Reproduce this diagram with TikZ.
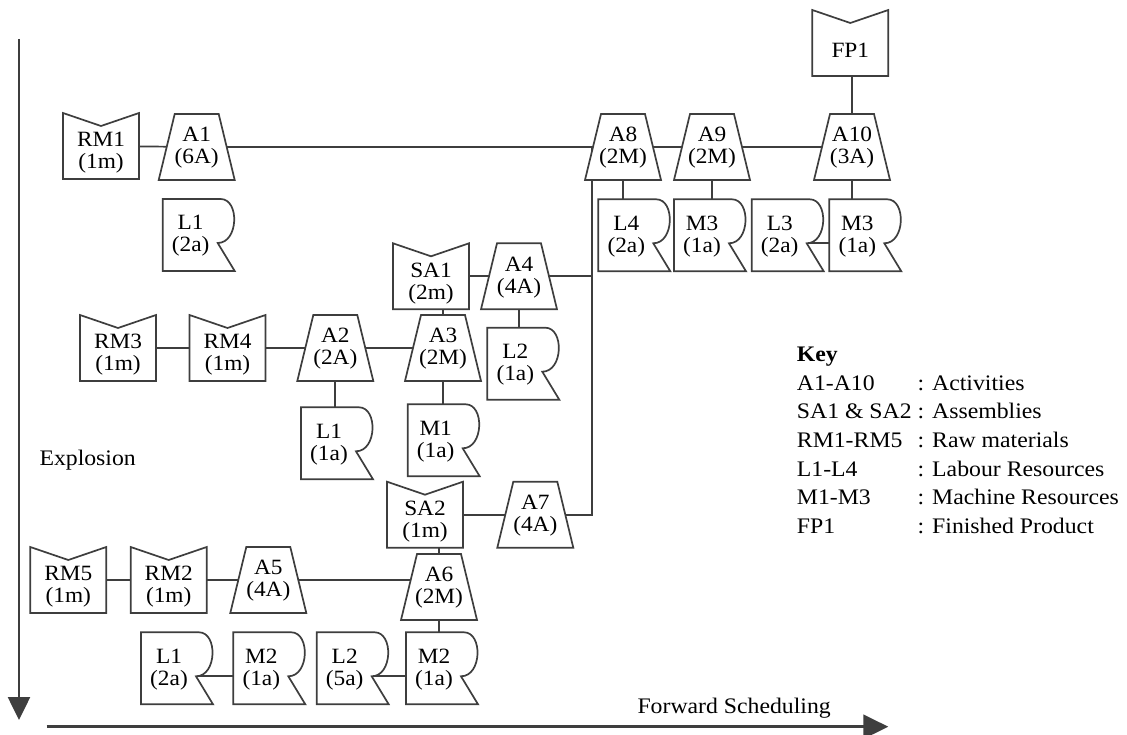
\documentclass[tikz,border=0pt]{standalone}
\usepackage{fontspec}
\setmainfont{Liberation Serif}[FakeStretch=1.07]
\usetikzlibrary{arrows.meta,calc}
\definecolor{inkgray}{RGB}{62,62,62}
\pgfdeclarelayer{background}
\pgfsetlayers{background,main}

% material / assembly / product: box with a notched top
\newcommand{\matnode}[4]{% name, centre x, top y, label
  \filldraw[outline] (#2-38,#3) -- (#2,#3+13) -- (#2+38,#3) -- (#2+38,#3+66) -- (#2-38,#3+66) -- cycle;
  \node[pin] (#1) at (#2,#3+33) {};
  \node[lbl] (#1-lbl) at (#2,#3+40) {#4};}
% activity: trapezoid, narrow side up
\newcommand{\actnode}[4]{% name, centre x, top y, label
  \filldraw[outline] (#2-22,#3) -- (#2+22,#3) -- (#2+38,#3+66) -- (#2-38,#3+66) -- cycle;
  \node[pin] (#1) at (#2,#3+33) {};
  \node[lbl] (#1-lbl) at (#2,#3+34) {#4};}
% resource: tab with a rounded bulge and a notch on the right
\newcommand{\resnode}[4]{% name, left x, top y, label
  \filldraw[outline] (#2,#3) -- (#2+58,#3) .. controls (#2+77,#3) and (#2+76,#3+44) .. (#2+55,#3+44)
    -- (#2+72,#3+72) -- (#2,#3+72) -- cycle;
  \node[pin] (#1) at (#2+36,#3+36) {};
  \coordinate (#1-tip) at (#2+55,#3+44);
  \node[lbl] (#1-lbl) at (#2+28,#3+37) {#4};}

\begin{document}
\begin{tikzpicture}[x=1pt,y=-1pt,
    outline/.style={draw=inkgray, fill=white, line width=1.7pt, line join=miter},
    pin/.style={inner sep=0pt, minimum size=0pt},
    lbl/.style={inner sep=0pt, align=center, text=black, font=\fontsize{21.8}{22}\selectfont},
    conn/.style={draw=inkgray, line width=1.7pt},
    axis/.style={draw=inkgray, line width=2.6pt, -{Triangle[length=23pt,width=22pt]}},
    plain/.style={inner sep=0pt, text=black, font=\fontsize{22.2}{28.6}\selectfont}]
\useasboundingbox (0,0) rectangle (1127,735);

% top line: product, activities and resources
\matnode{FP1}{850.3}{10}{FP1}
\matnode{RM1}{101}{113}{RM1\\(1m)}
\actnode{A1}{196.7}{114}{A1\\(6A)}
\actnode{A8}{623}{114}{A8\\(2M)}
\actnode{A9}{712}{114}{A9\\(2M)}
\actnode{A10}{852}{114}{A10\\(3A)}
\resnode{L1a}{162.7}{199}{L1\\(2a)}
\resnode{L4}{598.3}{199.3}{L4\\(2a)}
\resnode{M3a}{674}{199.3}{M3\\(1a)}
\resnode{L3}{751.7}{199.3}{L3\\(2a)}
\resnode{M3b}{829.3}{199.3}{M3\\(1a)}

% sub-assembly 1
\matnode{SA1}{431}{243.3}{SA1\\(2m)}
\actnode{A4}{519}{243.3}{A4\\(4A)}
\resnode{L2a}{487.3}{327.7}{L2\\(1a)}
\matnode{RM3}{118}{315}{RM3\\(1m)}
\matnode{RM4}{227.5}{315}{RM4\\(1m)}
\actnode{A2}{335.3}{315}{A2\\(2A)}
\actnode{A3}{443}{315}{A3\\(2M)}
\resnode{L1b}{301}{407.3}{L1\\(1a)}
\resnode{M1}{407.7}{404.3}{M1\\(1a)}

% sub-assembly 2
\matnode{SA2}{425}{481.7}{SA2\\(1m)}
\actnode{A7}{535.3}{481.7}{A7\\(4A)}
\matnode{RM5}{68.3}{547}{RM5\\(1m)}
\matnode{RM2}{168.7}{547}{RM2\\(1m)}
\actnode{A5}{268.3}{547}{A5\\(4A)}
\actnode{A6}{439}{554}{A6\\(2M)}
\resnode{L1c}{141}{632.3}{L1\\(2a)}
\resnode{M2a}{233.3}{632.3}{M2\\(1a)}
\resnode{L2b}{316.7}{632.3}{L2\\(5a)}
\resnode{M2b}{406}{632.3}{M2\\(1a)}

% collecting line on the right of A4 and A7
\path (A7) ++(56.4,0) coordinate (jn);

\begin{pgfonlayer}{background}
  \draw[conn] (RM1) -- (A1) -- (A8) -- (A9) -- (A10);
  \draw[conn] (FP1 -| A10) -- (A10);
  \draw[conn] (A8) -- (A8 |- L4);
  \draw[conn] (A9) -- (A9 |- M3a);
  \draw[conn] (A10) -- (A10 |- M3b);
  \draw[conn] (L3-tip) -- (L3-tip -| M3b);
  \draw[conn] (jn |- A8) -- (jn) -- (A7);
  \draw[conn] (A4) -- (A4 -| jn);
  \draw[conn] (SA1) -- (A4);
  \draw[conn] (A4) -- (A4 |- L2a);
  \draw[conn] (A3) -- (A3 |- SA1);
  \draw[conn] (RM3) -- (RM4) -- (A2) -- (A3);
  \draw[conn] (A2) -- (A2 |- L1b);
  \draw[conn] (A3) -- (A3 |- M1);
  \draw[conn] (SA2) -- (A7);
  \draw[conn] (A6) -- (A6 |- SA2);
  \draw[conn] (RM5) -- (RM2) -- (A5) -- (A5 -| A6);
  \draw[conn] (A6) -- (A6 |- M2b);
  \draw[conn] (L1c-tip) -- (L1c-tip -| M2a);
  \draw[conn] (L2b-tip) -- (L2b-tip -| M2b);
\end{pgfonlayer}

% direction axes
\coordinate (down-start) at (19,39);
\coordinate (down-end) at (19,720);
\coordinate (fwd-start) at (46.7,726.7);
\coordinate (fwd-end) at (888.3,726.7);
\draw[axis] (down-start) -- (down-end);
\draw[axis, -{Triangle[length=25pt,width=24pt]}] (fwd-start) -- (fwd-end);
\node[plain, anchor=base west] (explosion) at (39.3,465) {Explosion};
\node[plain, anchor=base west] (forward) at (637.3,713.3) {Forward Scheduling};

% key
\node[plain, anchor=base west] (key) at (796.7,361.7) {%
  \begin{tabular}[t]{@{}l@{\ }l@{}}
    \textbf{Key} & \\
    A1-A10 & : Activities\\
    SA1 \& SA2 & : Assemblies\\
    RM1-RM5 & : Raw materials\\
    L1-L4 & : Labour Resources\\
    M1-M3 & : Machine Resources\\
    FP1 & : Finished Product
  \end{tabular}};
\end{tikzpicture}
\end{document}
